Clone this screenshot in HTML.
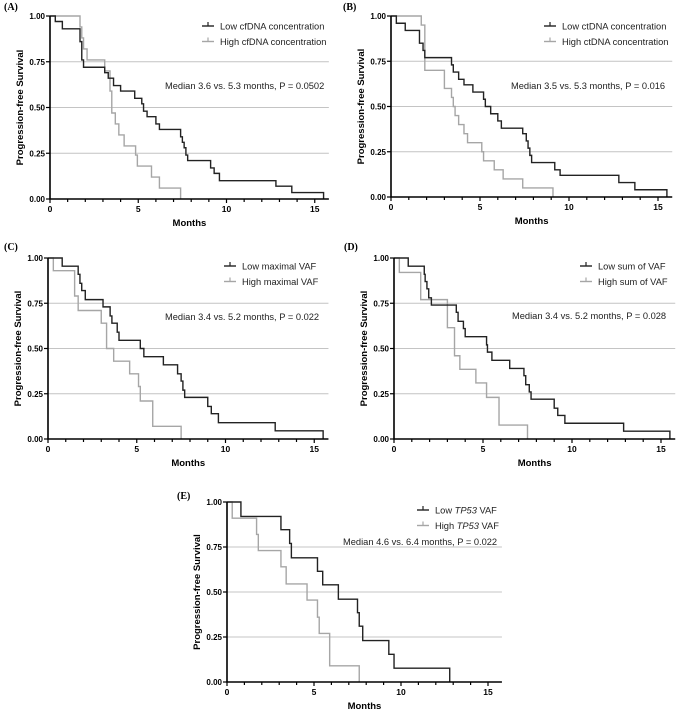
<!DOCTYPE html>
<html><head><meta charset="utf-8">
<style>
html,body{margin:0;padding:0;background:#fff;}
svg{display:block;font-family:"Liberation Sans",Arial,sans-serif;}
</style></head>
<body>
<svg id="fig" width="676" height="716" viewBox="0 0 676 716" xmlns="http://www.w3.org/2000/svg"></svg>
<script>
// ---- data (months of drop, survival after drop) ----
const aLowT=[0.3,0.7,1.7,1.8,1.9,3.1,3.3,3.6,4.0,4.8,5.2,5.3,5.5,6.0,6.2,7.4,7.5,7.6,7.7,7.8,9.1,9.3,9.6,12.8,13.7,15.5];
const aLowS=[0.97,0.93,0.86,0.76,0.72,0.69,0.66,0.62,0.59,0.55,0.52,0.48,0.45,0.41,0.38,0.34,0.31,0.28,0.24,0.21,0.17,0.14,0.10,0.07,0.035,0];
const aHighT=[1.7,1.8,1.9,2.1,3.1,3.4,3.5,3.7,3.9,4.2,4.85,4.95,5.75,6.2,7.4];
const aHighS=[0.94,0.88,0.82,0.76,0.70,0.59,0.47,0.41,0.35,0.29,0.24,0.18,0.12,0.06,0];
const bLowT=[0.3,0.8,1.6,1.8,1.9,3.4,3.5,3.8,4.1,4.6,5.2,5.3,5.6,6.0,6.2,7.4,7.6,7.7,7.8,7.9,9.2,9.5,12.8,13.7,15.5];
const bLowS=[0.96,0.92,0.85,0.81,0.77,0.73,0.69,0.65,0.62,0.58,0.54,0.50,0.46,0.42,0.38,0.35,0.31,0.27,0.23,0.19,0.15,0.12,0.08,0.04,0];
const bHighT=[1.7,1.9,3.0,3.4,3.5,3.6,3.8,4.1,4.3,5.1,5.2,5.8,6.3,7.4,9.1];
const bHighS=[0.95,0.70,0.60,0.55,0.50,0.45,0.40,0.35,0.30,0.25,0.20,0.15,0.10,0.05,0];
const cLowT=[0.8,1.7,1.8,1.9,2.1,3.1,3.5,3.6,3.9,4.0,5.2,5.4,6.5,7.3,7.5,7.6,7.7,9.0,9.2,9.6,12.8,15.5];
const cLowS=[0.955,0.91,0.86,0.82,0.77,0.73,0.68,0.64,0.59,0.545,0.50,0.455,0.41,0.36,0.32,0.27,0.23,0.18,0.14,0.09,0.045,0];
const cHighT=[0.3,1.5,1.7,3.0,3.3,3.7,4.6,5.1,5.2,5.9,7.5];
const cHighS=[0.93,0.79,0.71,0.64,0.50,0.43,0.36,0.29,0.21,0.07,0];
const dLowT=[0.8,1.7,1.75,1.85,1.95,2.1,3.5,3.6,3.9,4.0,5.2,5.25,5.5,6.5,7.3,7.4,7.6,7.7,9.0,9.2,9.6,12.9,15.5];
const dLowS=[0.955,0.91,0.87,0.83,0.78,0.74,0.70,0.65,0.61,0.565,0.52,0.48,0.435,0.39,0.35,0.30,0.26,0.22,0.17,0.13,0.087,0.043,0];
const dHighT=[0.3,1.5,3.0,3.4,3.7,4.6,5.2,5.9,7.5];
const dHighS=[0.92,0.77,0.615,0.46,0.385,0.31,0.23,0.077,0];
const eLowT=[0.8,3.1,3.6,3.7,5.2,5.5,6.4,7.5,7.6,7.8,9.3,9.6,12.8];
const eLowS=[0.92,0.846,0.77,0.69,0.615,0.54,0.46,0.385,0.31,0.23,0.154,0.077,0];
const eHighT=[0.3,1.7,1.8,3.1,3.4,4.6,5.2,5.3,5.9,7.6];
const eHighS=[0.91,0.82,0.73,0.64,0.545,0.455,0.36,0.27,0.09,0];
const yTicks=[0,0.25,0.5,0.75,1];
const yTickLabels=["0.00","0.25","0.50","0.75","1.00"];
const xTickLabels=[0,5,10,15];

const NS="http://www.w3.org/2000/svg";
const svg=document.getElementById('fig');
function mk(tag,attrs,parent){const e=document.createElementNS(NS,tag);for(const k in attrs)e.setAttribute(k,attrs[k]);(parent||svg).appendChild(e);return e;}

function panel(p){
  const g=mk('g',{});
  
  
  const xs=m=>p.x0+m*p.ppm, ys=v=>p.y0-(p.y0-p.y1)*v;
  const xEnd=xs(15.8);
  [0.25,0.5,0.75].forEach(v=>{const l=mk('line',{x1:p.x0,x2:xEnd,y1:ys(v),y2:ys(v),stroke:'#c4c4c4','stroke-width':1},g);
    
    });
  function curve(T,S,color,name){
    let d='M'+xs(0)+','+ys(1);
    for(let i=0;i<T.length;i++){d+=' H'+xs(T[i])+' V'+ys(S[i]);}
    const pth=mk('path',{d:d,fill:'none',stroke:color,'stroke-width':1.4},g);
    
    
  }
  curve(p.highT,p.highS,'#a6a6a6','curve-high');
  curve(p.lowT,p.lowS,'#222','curve-low');
  const ax=mk('path',{d:`M${p.x0},${p.y1} V${p.y0} H${xEnd}`,fill:'none',stroke:'#000','stroke-width':1.6},g);
  
  
  for(let m=0;m<=15;m++){const big=m%5==0;mk('line',{x1:xs(m),x2:xs(m),y1:p.y0,y2:p.y0+(big?4:3),stroke:'#000','stroke-width':1.2},g);}
  xTickLabels.forEach(v=>{const t=mk('text',{x:xs(v),y:p.y0+13,'text-anchor':'middle','font-size':8.5,'font-weight':'bold'},g);t.textContent=v;
    
    });
  yTicks.forEach((v,i)=>{mk('line',{x1:p.x0-4,x2:p.x0,y1:ys(v),y2:ys(v),stroke:'#000','stroke-width':1.2},g);
    const t=mk('text',{x:p.x0-5,y:ys(v)+3,'text-anchor':'end','font-size':8,'font-weight':'bold'},g);t.textContent=yTickLabels[i];
    
    });
  const xt=mk('text',{x:(p.x0+xEnd)/2,y:p.y0+27,'text-anchor':'middle','font-size':9.5,'font-weight':'bold'},g);xt.textContent='Months';
  
  
  const cy=(p.y0+p.y1)/2, cx=p.x0-27;
  const yt=mk('text',{x:cx,y:cy,'text-anchor':'middle','font-size':9.5,'font-weight':'bold',transform:`rotate(-90 ${cx} ${cy})`},g);yt.textContent='Progression-free Survival';
  
  
  const pl=mk('text',{x:p.lx,y:p.ly,'font-size':10,'font-weight':'bold','font-family':'"Liberation Serif",serif'},g);pl.textContent=p.label;
  
  
  [[p.leg1,'#222'],[p.leg2,'#a6a6a6']].forEach((L,i)=>{
    const y=p.legY+i*15.5;
    const lg=mk('g',{},g);
    
    
    mk('line',{x1:p.legX,x2:p.legX+12,y1:y,y2:y,stroke:L[1],'stroke-width':1.4},lg);
    mk('line',{x1:p.legX+6,x2:p.legX+6,y1:y-4,y2:y,stroke:L[1],'stroke-width':1.2},lg);
    const t=mk('text',{x:p.legX+18,y:y+3.5,'font-size':9.3,fill:'#222'},lg);t.innerHTML=L[0];
  });
  const md=mk('text',{x:p.medX,y:p.medY,'font-size':9.3,fill:'#222'},g);md.textContent=p.median;
  
  
}
panel({id:'a',label:'(A)',lx:4,ly:10,x0:50,y1:16,y0:199,ppm:17.65,lowT:aLowT,lowS:aLowS,highT:aHighT,highS:aHighS,
  legX:202,legY:26,leg1:'Low cfDNA concentration',leg2:'High cfDNA concentration',medX:165,medY:89,median:'Median 3.6 vs. 5.3 months, P = 0.0502'});
panel({id:'b',label:'(B)',lx:343,ly:10,x0:391,y1:16,y0:197,ppm:17.8,lowT:bLowT,lowS:bLowS,highT:bHighT,highS:bHighS,
  legX:544,legY:26,leg1:'Low ctDNA concentration',leg2:'High ctDNA concentration',medX:511,medY:89,median:'Median 3.5 vs. 5.3 months, P = 0.016'});
panel({id:'c',label:'(C)',lx:4,ly:250,x0:48,y1:258,y0:439,ppm:17.75,lowT:cLowT,lowS:cLowS,highT:cHighT,highS:cHighS,
  legX:224,legY:266,leg1:'Low maximal VAF',leg2:'High maximal VAF',medX:165,medY:320,median:'Median 3.4 vs. 5.2 months, P = 0.022'});
panel({id:'d',label:'(D)',lx:344,ly:250,x0:394,y1:258,y0:439,ppm:17.8,lowT:dLowT,lowS:dLowS,highT:dHighT,highS:dHighS,
  legX:580,legY:266,leg1:'Low sum of VAF',leg2:'High sum of VAF',medX:512,medY:319,median:'Median 3.4 vs. 5.2 months, P = 0.028'});
panel({id:'e',label:'(E)',lx:177,ly:499,x0:227,y1:502,y0:682,ppm:17.4,lowT:eLowT,lowS:eLowS,highT:eHighT,highS:eHighS,
  legX:417,legY:510,leg1:'Low <tspan font-style="italic">TP53</tspan> VAF',leg2:'High <tspan font-style="italic">TP53</tspan> VAF',medX:343,medY:545,median:'Median 4.6 vs. 6.4 months, P = 0.022'});
</script>
</body></html>
